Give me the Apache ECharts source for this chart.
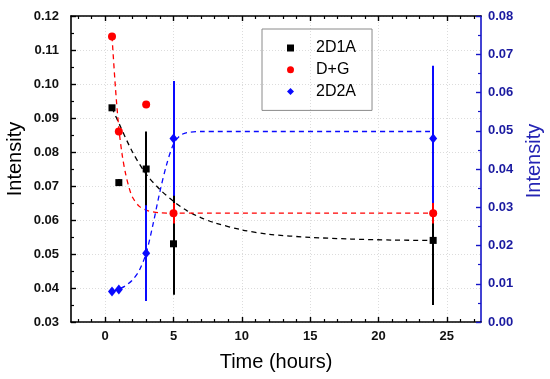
<!DOCTYPE html>
<html>
<head>
<meta charset="utf-8">
<script src="https://cdn.jsdelivr.net/npm/echarts@6/dist/echarts.min.js"></script>
<style>html,body{margin:0;padding:0;background:#fff}#c{width:550px;height:379px}</style>
</head>
<body>
<div id="c"></div>
<script>
// ---- data ----
var timeHours = [0.5, 1, 3, 5, 24];
var d1aValues = [0.093, 0.071, 0.075, 0.053, 0.054];
var d1aErrors = [0, 0.001, 0.011, 0.015, 0.019];
var dgValues = [0.114, 0.086, 0.094, 0.062, 0.062];
var dgErrors = [0, 0, 0, 0.003, 0.003];
var d2aValues = [0.008, 0.0085, 0.018, 0.048, 0.048];
var d2aErrors = [0, 0, 0.0125, 0.015, 0.019];

// fitted curves
var d1aFitX = [0.5, 1, 2, 3, 4, 5, 6, 7, 8, 10, 12, 15, 18, 21, 24];
var d1aFitY = [0.093, 0.0885, 0.080, 0.0735, 0.069, 0.0655, 0.0627, 0.0607, 0.0592, 0.0571, 0.0558, 0.0549, 0.0544, 0.0541, 0.054];
var dgFitX = [0.5, 0.75, 1, 1.25, 1.5, 1.75, 2, 2.5, 3, 3.5, 4, 5, 24];
var dgFitY = [0.114, 0.099, 0.087, 0.079, 0.0735, 0.0695, 0.0667, 0.064, 0.0629, 0.0624, 0.0621, 0.062, 0.062];
var d2aFitX = [0.5, 1, 1.5, 2, 2.5, 3, 3.5, 4, 4.5, 5, 5.5, 6, 7, 24];
var d2aFitY = [0.008, 0.0086, 0.0095, 0.011, 0.0135, 0.018, 0.0255, 0.034, 0.0412, 0.0465, 0.0488, 0.0495, 0.0498, 0.0498];

var xMajorTicks = [0, 5, 10, 15, 20, 25];
var xMinorTicks = [-2, -1, 1, 2, 3, 4, 6, 7, 8, 9, 11, 12, 13, 14, 16, 17, 18, 19, 21, 22, 23, 24, 26, 27];

var seriesNames = ['2D1A', 'D+G', '2D2A'];
var xName = 'Time (hours)';
var yName = 'Intensity';

// ---- chart ----
var BLACK = '#000000', RED = '#ff0000', BLUE = '#0a0aff', NAVY = '#1a1aa0';
var FONT = '"Liberation Sans", Arial, sans-serif';

function zip(a, b) { return a.map(function (v, i) { return [v, b[i]]; }); }
function errData(vals, errs) {
  var out = [];
  vals.forEach(function (v, i) { if (errs[i] > 0) out.push([timeHours[i], v - errs[i], v + errs[i]]); });
  return out;
}
function errSeries(vals, errs, color, yIdx, zl) {
  return {
    type: 'custom', xAxisIndex: 0, yAxisIndex: yIdx, zlevel: zl, z: 5, silent: true,
    data: errData(vals, errs),
    encode: { x: 0, y: [1, 2] },
    renderItem: function (params, api) {
      var lo = api.coord([api.value(0), api.value(1)]);
      var hi = api.coord([api.value(0), api.value(2)]);
      var px = Math.round(lo[0]);
      return { type: 'line', shape: { x1: px, y1: lo[1], x2: px, y2: hi[1] },
               style: { stroke: color, lineWidth: 2 } };
    }
  };
}
function fitSeries(x, y, color, yIdx) {
  return { type: 'line', xAxisIndex: 0, yAxisIndex: yIdx, data: zip(x, y), smooth: 0.3,
           showSymbol: false, silent: true, z: 3,
           lineStyle: { color: color, width: 1.3, type: [5, 4] } };
}

var gridRect = { left: 71, right: 69, top: 16, bottom: 57, outerBoundsMode: 'none', containLabel: false };
var labelStyle = { fontFamily: FONT, fontWeight: 'bold', fontSize: 13, color: '#111' };

var chart = echarts.init(document.getElementById('c'), null, { renderer: 'canvas' });
chart.setOption({
  animation: false,
  backgroundColor: '#fff',
  grid: [Object.assign({}, gridRect), Object.assign({}, gridRect)],
  legend: {
    orient: 'vertical', left: 262, top: 29, zlevel: 5,
    data: [
      { name: seriesNames[0], icon: 'rect', itemStyle: { opacity: 1 } },
      { name: seriesNames[1], icon: 'circle', itemStyle: { opacity: 1 } },
      { name: seriesNames[2], icon: 'diamond', itemStyle: { opacity: 1 } }
    ],
    itemWidth: 7, itemHeight: 7, itemGap: 3.7,
    padding: [10, 16, 10, 25],
    borderColor: '#8a8a8a', borderWidth: 1,
    textStyle: { fontFamily: FONT, fontSize: 16, color: '#000', lineHeight: 18, padding: [0, 0, 0, 17] }
  },
  xAxis: [
    { type: 'value', gridIndex: 0, position: 'bottom', min: -2.5, max: 27.5,
      name: xName, nameLocation: 'middle', nameGap: 30,
      nameTextStyle: { fontFamily: FONT, fontSize: 20, color: '#000' },
      axisLine: { onZero: false, lineStyle: { color: '#000', width: 1.6 } },
      axisTick: { inside: true, length: 5, customValues: xMajorTicks, lineStyle: { color: '#000', width: 1.4 } },
      axisLabel: Object.assign({ margin: 8, customValues: xMajorTicks }, labelStyle),
      splitLine: { show: true, lineStyle: { color: '#dcdcdc', width: 1, type: [1, 2] } } },
    { type: 'value', gridIndex: 0, position: 'top', min: -2.5, max: 27.5,
      axisLine: { onZero: false, lineStyle: { color: '#000', width: 1.6 } },
      axisTick: { inside: true, length: 5, customValues: xMajorTicks, lineStyle: { color: '#000', width: 1.4 } },
      axisLabel: { show: false }, splitLine: { show: false } },
    { type: 'value', gridIndex: 1, position: 'bottom', min: -2.5, max: 27.5,
      axisLine: { show: false },
      axisTick: { inside: true, length: 3, customValues: xMinorTicks, lineStyle: { color: '#000', width: 1.2 } },
      axisLabel: { show: false }, splitLine: { show: false } },
    { type: 'value', gridIndex: 1, position: 'top', min: -2.5, max: 27.5,
      axisLine: { show: false },
      axisTick: { inside: true, length: 3, customValues: xMinorTicks, lineStyle: { color: '#000', width: 1.2 } },
      axisLabel: { show: false }, splitLine: { show: false } }
  ],
  yAxis: [
    { type: 'value', gridIndex: 0, position: 'left', min: 0.03, max: 0.12, interval: 0.01,
      name: yName, nameLocation: 'middle', nameGap: 46, nameMoveOverlap: false,
      nameTextStyle: { fontFamily: FONT, fontSize: 20, color: '#000', padding: [0, 0, 0, 20] },
      axisLine: { show: true, onZero: false, lineStyle: { color: '#000', width: 1.6 } },
      axisTick: { inside: true, length: 5, lineStyle: { color: '#000', width: 1.4 } },
      minorTick: { show: true, splitNumber: 2, length: 3, lineStyle: { color: '#000', width: 1.2 } },
      axisLabel: Object.assign({ margin: 12, formatter: function (v) { return v.toFixed(2); } }, labelStyle),
      splitLine: { show: true, lineStyle: { color: '#dcdcdc', width: 1, type: [1, 2] } } },
    { type: 'value', gridIndex: 0, position: 'right', min: 0, max: 0.08, interval: 0.01,
      name: yName, nameLocation: 'middle', nameGap: 43,
      nameTextStyle: { fontFamily: FONT, fontSize: 20, color: '#2424b4', padding: [0, 0, 0, 16] },
      axisLine: { show: true, onZero: false, lineStyle: { color: '#1414c8', width: 1.6 } },
      axisTick: { inside: true, length: 5, lineStyle: { color: '#1414c8', width: 1.4 } },
      minorTick: { show: true, splitNumber: 2, length: 3, lineStyle: { color: '#1414c8', width: 1.2 } },
      axisLabel: Object.assign({ margin: 7, formatter: function (v) { return v.toFixed(2); } }, labelStyle, { color: NAVY }),
      splitLine: { show: false } },
    { type: 'value', gridIndex: 1, show: false, min: 0, max: 1 }
  ],
  series: [
    fitSeries(d1aFitX, d1aFitY, BLACK, 0),
    fitSeries(dgFitX, dgFitY, RED, 0),
    fitSeries(d2aFitX, d2aFitY, BLUE, 1),
    errSeries(d1aValues, d1aErrors, BLACK, 0, 1),
    errSeries(d2aValues, d2aErrors, BLUE, 1, 2),
    errSeries(dgValues, dgErrors, RED, 0, 3),
    { name: seriesNames[0], type: 'scatter', xAxisIndex: 0, yAxisIndex: 0, zlevel: 4, z: 10,
      data: zip(timeHours, d1aValues), symbol: 'rect', symbolSize: 7, itemStyle: { color: BLACK, opacity: 1 } },
    { name: seriesNames[1], type: 'scatter', xAxisIndex: 0, yAxisIndex: 0, zlevel: 4, z: 10,
      data: zip(timeHours, dgValues), symbol: 'circle', symbolSize: 8, itemStyle: { color: RED, opacity: 1 } },
    { name: seriesNames[2], type: 'scatter', xAxisIndex: 0, yAxisIndex: 1, zlevel: 4, z: 10,
      data: zip(timeHours, d2aValues), symbol: 'diamond', symbolSize: [8, 10], itemStyle: { color: BLUE, opacity: 1 } }
  ]
});
</script>
</body>
</html>
